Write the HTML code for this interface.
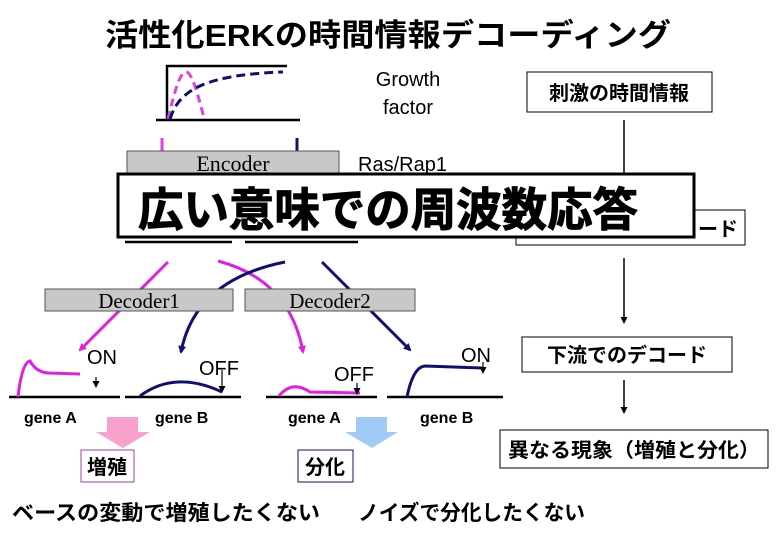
<!DOCTYPE html>
<html><head><meta charset="utf-8"><style>
body{margin:0;background:#fff}
svg{display:block}
text{font-family:"Liberation Sans","Noto Sans CJK JP",sans-serif}
.s{font-family:"Liberation Serif","Noto Serif CJK SC",serif}
</style></head><body>
<svg width="780" height="540" viewBox="0 0 780 540">
<defs>
<marker id="am" markerWidth="8" markerHeight="8" refX="6" refY="4" orient="auto" markerUnits="userSpaceOnUse"><path d="M0,0 L8,4 L0,8 z" fill="#e020e0"/></marker>
<marker id="ab" markerWidth="8" markerHeight="8" refX="6" refY="4" orient="auto" markerUnits="userSpaceOnUse"><path d="M0,0 L8,4 L0,8 z" fill="#101070"/></marker>
<marker id="ak" markerWidth="7" markerHeight="7" refX="5" refY="3.5" orient="auto" markerUnits="userSpaceOnUse"><path d="M0,0 L7,3.5 L0,7 z" fill="#000"/></marker>
</defs>
<text x="388" y="46" text-anchor="middle" font-size="31" font-weight="bold" textLength="566" lengthAdjust="spacingAndGlyphs">活性化ERKの時間情報デコーディング</text>

<!-- growth factor plot -->
<path d="M167,120 V66 H287" fill="none" stroke="#000" stroke-width="2.5"/>
<line x1="156" y1="120" x2="300" y2="120" stroke="#000" stroke-width="2.5"/>
<path d="M168,119 C175,90 180,72 186,72 C192,72 198,95 204,118" fill="none" stroke="#e040e0" stroke-width="3" stroke-dasharray="8,5"/>
<path d="M170,119 C178,95 195,75 283,72" fill="none" stroke="#101070" stroke-width="3" stroke-dasharray="9,5"/>
<text x="408" y="86" text-anchor="middle" font-size="20">Growth</text>
<text x="408" y="114" text-anchor="middle" font-size="20">factor</text>
<line x1="162" y1="138" x2="162" y2="151" stroke="#e040e0" stroke-width="3"/>
<line x1="297" y1="138" x2="297" y2="151" stroke="#101070" stroke-width="3"/>
<rect x="127" y="151" width="212" height="24" fill="#c8c8c8" stroke="#555"/>
<text x="233" y="171" text-anchor="middle" class="s" font-size="22">Encoder</text>
<text x="358" y="171" font-size="20">Ras/Rap1</text>

<!-- right flow -->
<rect x="527" y="72" width="185" height="40" fill="#fff" stroke="#000"/>
<text x="619" y="100" text-anchor="middle" font-size="20" font-weight="bold">刺激の時間情報</text>
<line x1="624" y1="120" x2="624" y2="175" stroke="#000" stroke-width="1.5"/>
<rect x="516" y="210" width="229" height="35" fill="#fff" stroke="#000"/>
<text x="718" y="236" text-anchor="middle" font-size="20" font-weight="bold">ード</text>
<line x1="624" y1="258" x2="624" y2="322" stroke="#000" stroke-width="1.5" marker-end="url(#ak)"/>
<rect x="522" y="337" width="210" height="35" fill="#fff" stroke="#000"/>
<text x="627" y="362" text-anchor="middle" font-size="20" font-weight="bold">下流でのデコード</text>
<line x1="624" y1="380" x2="624" y2="412" stroke="#000" stroke-width="1.5" marker-end="url(#ak)"/>
<rect x="500" y="430" width="268" height="38" fill="#fff" stroke="#000"/>
<text x="634" y="457" text-anchor="middle" font-size="20" font-weight="bold" textLength="252" lengthAdjust="spacingAndGlyphs">異なる現象（増殖と分化）</text>

<!-- big box -->
<rect x="118" y="174" width="576" height="63" fill="#fff" stroke="#000" stroke-width="3"/>
<text x="388" y="226" text-anchor="middle" font-size="46" font-weight="bold" stroke="#000" stroke-width="1" textLength="500" lengthAdjust="spacingAndGlyphs">広い意味での周波数応答</text>
<line x1="125" y1="242" x2="232" y2="242" stroke="#000" stroke-width="2.5"/>
<line x1="245" y1="242" x2="358" y2="242" stroke="#000" stroke-width="2.5"/>

<!-- connectors -->
<path d="M168,262 L80,350" fill="none" stroke="#e020e0" stroke-width="3" marker-end="url(#am)"/>
<path d="M218,261 Q290,280 303,352" fill="none" stroke="#e020e0" stroke-width="3" marker-end="url(#am)"/>
<path d="M285,262 Q195,280 181,352" fill="none" stroke="#101070" stroke-width="3" marker-end="url(#ab)"/>
<path d="M322,262 L410,350" fill="none" stroke="#101070" stroke-width="3" marker-end="url(#ab)"/>
<rect x="45" y="289" width="188" height="22" fill="#c8c8c8" stroke="#555"/>
<text x="139" y="308" text-anchor="middle" class="s" font-size="21">Decoder1</text>
<rect x="245" y="289" width="170" height="22" fill="#c8c8c8" stroke="#555"/>
<text x="330" y="308" text-anchor="middle" class="s" font-size="21">Decoder2</text>

<!-- gene plots -->
<g stroke="#000" stroke-width="2.5"><line x1="9" y1="397" x2="120" y2="397"/><line x1="125" y1="397" x2="241" y2="397"/><line x1="266" y1="397" x2="377" y2="397"/><line x1="387" y1="397" x2="503" y2="397"/></g>
<path d="M18,397 Q22,362 30,361 Q36,372 48,373 L80,374" fill="none" stroke="#e020e0" stroke-width="3"/>
<path d="M140,396 Q175,370 222,392" fill="none" stroke="#101070" stroke-width="3"/>
<path d="M279,396 Q292,380 310,392 L360,393" fill="none" stroke="#e020e0" stroke-width="3"/>
<path d="M407,397 Q413,367 425,366 L482,368" fill="none" stroke="#101070" stroke-width="3"/>
<g font-size="20"><text x="87" y="364">ON</text><text x="199" y="375">OFF</text><text x="334" y="381">OFF</text><text x="461" y="362">ON</text></g>
<line x1="96" y1="377" x2="96" y2="386" stroke="#000" stroke-width="1.2" marker-end="url(#ak)"/>
<line x1="222" y1="370" x2="222" y2="391" stroke="#000" stroke-width="1.2" marker-end="url(#ak)"/>
<line x1="357" y1="383" x2="357" y2="393" stroke="#000" stroke-width="1.2" marker-end="url(#ak)"/>
<line x1="483" y1="362" x2="483" y2="372" stroke="#000" stroke-width="1.2" marker-end="url(#ak)"/>
<g font-size="16" font-weight="bold"><text x="24" y="423">gene A</text><text x="155" y="423">gene B</text><text x="288" y="423">gene A</text><text x="420" y="423">gene B</text></g>

<path d="M107,417 H138 V432 H150 L123,448 L96,432 H107 z" fill="#f7a1cc"/>
<path d="M356,417 H387 V432 H398 L372,448 L345,432 H356 z" fill="#a0cbf7"/>
<rect x="81" y="450" width="53" height="32" fill="#fff" stroke="#a040a0"/>
<text x="107" y="474" text-anchor="middle" font-size="20" font-weight="bold">増殖</text>
<rect x="298" y="450" width="55" height="32" fill="#fff" stroke="#101070"/>
<text x="325" y="474" text-anchor="middle" font-size="20" font-weight="bold">分化</text>
<text x="12" y="520" font-size="21" font-weight="bold" textLength="308" lengthAdjust="spacingAndGlyphs">ベースの変動で増殖したくない</text>
<text x="358" y="520" font-size="21" font-weight="bold" textLength="227" lengthAdjust="spacingAndGlyphs">ノイズで分化したくない</text>
</svg>
</body></html>
